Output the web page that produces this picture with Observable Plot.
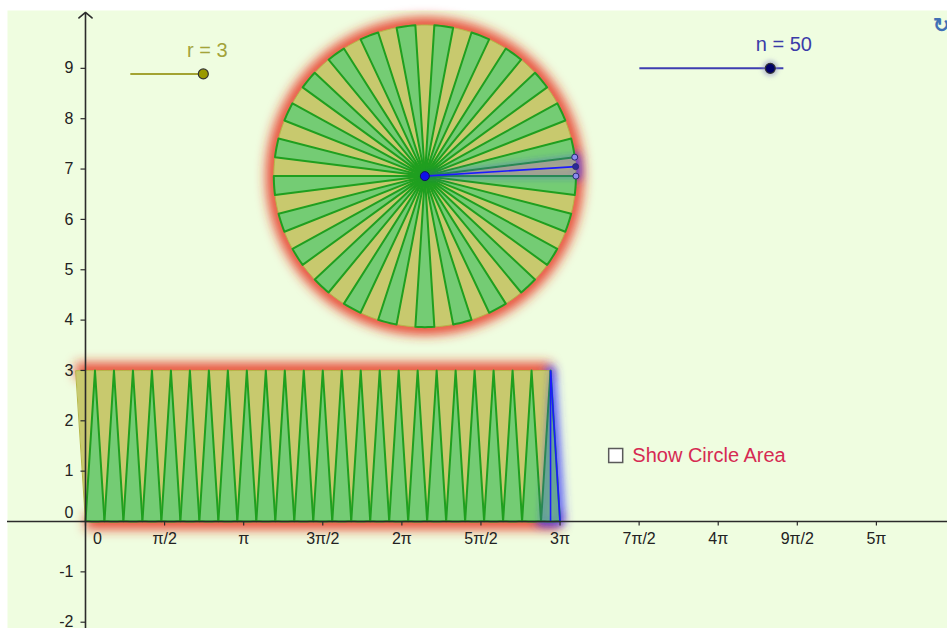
<!DOCTYPE html>
<html><head><meta charset="utf-8">
<script src="https://cdn.jsdelivr.net/npm/d3@7"></script>
<script src="https://cdn.jsdelivr.net/npm/@observablehq/plot@0.6"></script>
<style>body{margin:0;background:#fff;} #chart svg{display:block}</style>
</head><body><div id="chart"></div>
<script>
// ---- data ----
const r = 3;                       // radius slider value
const n = 50;                      // number of sectors slider value
const circleCenter = [6.74, 6.86]; // centre of the dissected circle
const xTickMultiples = [0, 0.5, 1, 1.5, 2, 2.5, 3, 3.5, 4, 4.5, 5]; // × π
const xTickLabels = ["0", "π/2", "π", "3π/2", "2π", "5π/2", "3π", "7π/2", "4π", "9π/2", "5π"];
const yTickValues = [-2, -1, 0, 1, 2, 3, 4, 5, 6, 7, 8, 9];
const yTickLabels = ["-2", "-1", "0", "1", "2", "3", "4", "5", "6", "7", "8", "9"];
const sliderNames = ["r = 3", "n = 50"];
const sliderX1 = [0.89, 11.0];
const sliderX2 = [2.34, 13.86];
const sliderHandle = [2.34, 13.6];
const sliderY = [8.89, 9.0];
const sliderLabelX = [2.42, 13.87];
const sliderLabelY = [9.35, 9.47];
const checkboxLabel = "Show Circle Area";
const checkboxPos = [10.53, 1.31];
const checkboxTextX = 10.86;
const xDomain = [-1.549, 17.12];
const yDomain = [-2.125, 10.149];

// ---- geometry derived from r and n ----
const theta = 2 * Math.PI / n;
const arcLen = r * theta;
const arcSteps = 6;
function sector(id, cx, cy, a0, a1) {
  const pts = [{id, x: cx, y: cy}];
  for (let i = 0; i <= arcSteps; i++) {
    const a = a0 + (a1 - a0) * i / arcSteps;
    pts.push({id, x: cx + r * Math.cos(a), y: cy + r * Math.sin(a)});
  }
  return pts;
}
const yellowPts = [], greenPts = [];
for (let j = 0; j < n; j++) {
  const s = sector("c" + j, circleCenter[0], circleCenter[1], j * theta, (j + 1) * theta);
  (j % 2 === 0 ? yellowPts : greenPts).push(...s);
}
for (let k = 0; k < n / 2; k++) {
  yellowPts.push(...sector("ry" + k, k * arcLen, 0, Math.PI / 2 - theta / 2, Math.PI / 2 + theta / 2));
  greenPts.push(...sector("rg" + k, (k + 0.5) * arcLen, r, -Math.PI / 2 - theta / 2, -Math.PI / 2 + theta / 2));
}
const lastK = n / 2 - 1;
const blueSectors = [
  ...sector("bc", circleCenter[0], circleCenter[1], 0, theta),
  ...sector("br", (lastK + 0.5) * arcLen, r, -Math.PI / 2 - theta / 2, -Math.PI / 2 + theta / 2)
];
const circlePts = d3.range(0, 121).map(i => ({x: circleCenter[0] + r * Math.cos(i / 120 * 2 * Math.PI), y: circleCenter[1] + r * Math.sin(i / 120 * 2 * Math.PI)}));
const rectEdges = [
  {x1: -arcLen / 2, y1: r, x2: (n / 2 - 0.5) * arcLen, y2: r},
  {x1: 0, y1: 0, x2: (n / 2) * arcLen, y2: 0}
];
const blueLines = [
  {x1: circleCenter[0], y1: circleCenter[1], x2: circleCenter[0] + r * Math.cos(theta / 2), y2: circleCenter[1] + r * Math.sin(theta / 2)},
  {x1: (lastK + 0.5) * arcLen, y1: r, x2: (lastK + 0.5) * arcLen, y2: 0},
  {x1: (lastK + 0.5) * arcLen, y1: r, x2: (lastK + 1) * arcLen, y2: 0}
];
const arcPoints = [0, 0.5, 1].map(f => ({f, x: circleCenter[0] + r * Math.cos(f * theta), y: circleCenter[1] + r * Math.sin(f * theta)}));

const pxPerUnit = 940 / (xDomain[1] - xDomain[0]);
const tickLen = 4.5 / pxPerUnit;
const xTicks = xTickMultiples.map((m, i) => ({x: m * Math.PI, label: xTickLabels[i]}));
const yTicks = yTickValues.map((v, i) => ({y: v, label: yTickLabels[i]}));
const sliders = sliderNames.map((name, i) => ({name, x1: sliderX1[i], x2: sliderX2[i], h: sliderHandle[i], y: sliderY[i], lx: sliderLabelX[i], ly: sliderLabelY[i]}));

const bg = "#effde0";
const axisColor = "#2b2b2b";

const chart = Plot.plot({
  width: 947, height: 628,
  marginLeft: 7, marginTop: 10, marginRight: 0, marginBottom: 0,
  x: {domain: xDomain, axis: null},
  y: {domain: yDomain, axis: null},
  style: {fontFamily: "'Liberation Sans', Arial, sans-serif", fontSize: "16px"},
  marks: [
    Plot.frame({fill: bg, stroke: "none"}),
    // red selection glows
    Plot.line(circlePts, {x: "x", y: "y", stroke: "#e8321f", strokeWidth: 15, strokeOpacity: 0.9, ariaDescription: "glow-red"}),
    Plot.link(rectEdges, {x1: "x1", y1: "y1", x2: "x2", y2: "y2", stroke: "#e8321f", strokeWidth: 15, strokeOpacity: 0.9, ariaDescription: "glow-red"}),
    // blue glow (outside)
    Plot.line(blueSectors, {x: "x", y: "y", z: "id", curve: "linear-closed", stroke: "#3a3aff", strokeWidth: 10, strokeOpacity: 0.75, ariaDescription: "glow-blue"}),
    // pieces
    Plot.line(yellowPts, {x: "x", y: "y", z: "id", curve: "linear-closed", fill: "#c8c96e", stroke: "#b6b748", strokeWidth: 1}),
    Plot.line(greenPts, {x: "x", y: "y", z: "id", curve: "linear-closed", fill: "#74cc74", stroke: "#1f9f1f", strokeWidth: 2, strokeLinejoin: "round"}),
    // blue tint over highlighted piece
    Plot.line(blueSectors, {x: "x", y: "y", z: "id", curve: "linear-closed", fill: "#5a5ad0", fillOpacity: 0.3, stroke: "#3030ff", strokeWidth: 4, strokeOpacity: 0.3, ariaDescription: "glow-blue-soft"}),
    Plot.link(blueLines, {x1: "x1", y1: "y1", x2: "x2", y2: "y2", stroke: "#1a1aff", strokeWidth: 1.6}),
    // axes
    Plot.ruleY([0], {stroke: axisColor, strokeWidth: 1.6}),
    Plot.arrow([0], {x1: 0, y1: yDomain[0], x2: 0, y2: 10.11, stroke: axisColor, strokeWidth: 1.6, headLength: 8, headAngle: 100}),
    Plot.ruleX(xTicks, {x: "x", y1: 0, y2: -tickLen, stroke: axisColor, strokeWidth: 1.2}),
    Plot.ruleY(yTicks, {y: "y", x1: -tickLen, x2: 0, stroke: axisColor, strokeWidth: 1.2}),
    Plot.text(xTicks.filter(d => d.x !== 0), {x: "x", y: 0, text: "label", dy: 17, fill: "#222", fontSize: 16}),
    Plot.text(xTicks.filter(d => d.x === 0), {x: "x", y: 0, text: "label", dy: 17, dx: 12, fill: "#222", fontSize: 16}),
    Plot.text(yTicks.filter(d => d.y !== 0), {x: 0, y: "y", text: "label", dx: -12, textAnchor: "end", fill: "#222", fontSize: 16}),
    Plot.text(yTicks.filter(d => d.y === 0), {x: 0, y: "y", text: "label", dx: -12, dy: -9, textAnchor: "end", fill: "#222", fontSize: 16}),
    // points
    Plot.dot(arcPoints, {x: "x", y: "y", r: 3, fill: d => d.f === 0.5 ? "#2a2a9a" : "#8c8cf0", stroke: "#2a2a70", strokeWidth: 1}),
    Plot.dot([circleCenter], {x: d => d[0], y: d => d[1], r: 4.5, fill: "#1010e8", stroke: "#101060", strokeWidth: 1}),
    // sliders
    Plot.link(sliders, {x1: "x1", x2: "x2", y1: "y", y2: "y", stroke: (d, i) => i === 0 ? "#a3a332" : "#3d3db0", strokeWidth: 2}),
    Plot.dot(sliders.slice(1), {x: "h", y: "y", r: 8, fill: "#8e8ec8", fillOpacity: 0.55, ariaDescription: "glow-dot"}),
    Plot.dot(sliders, {x: "h", y: "y", r: 5, fill: (d, i) => i === 0 ? "#999900" : "#000066", stroke: "#333", strokeWidth: 1.2}),
    Plot.text(sliders, {x: "lx", y: "ly", text: "name", fill: (d, i) => i === 0 ? "#a3a33a" : "#3b3ba8", fontSize: 20}),
    // checkbox
    Plot.dot([checkboxPos], {x: d => d[0], y: d => d[1], symbol: "square", r: 7.9, fill: "#ffffff", stroke: "#5a5a5a", strokeWidth: 1.5}),
    Plot.text([checkboxLabel], {x: checkboxTextX, y: checkboxPos[1], text: d => d, textAnchor: "start", fill: "#d62a52", fontSize: 20}),
    // refresh icon (partly off the right edge, as in the reference)
    Plot.text(["↻"], {x: 17.0, y: 9.85, text: d => d, fill: "#4170b5", fontSize: 20, fontWeight: "bold"})
  ]
});

const svg = chart.tagName.toLowerCase() === "svg" ? chart : chart.querySelector("svg");
const defs = d3.select(svg).insert("defs", ":first-child");
function addBlur(id, sd) {
  defs.append("filter").attr("id", id).attr("filterUnits", "userSpaceOnUse")
    .attr("x", 0).attr("y", 0).attr("width", 947).attr("height", 628)
    .append("feGaussianBlur").attr("stdDeviation", sd);
}
addBlur("blurRed", 6);
addBlur("blurBlue", 5);
addBlur("blurSoft", 3);
addBlur("blurDot", 2);
d3.select(svg).selectAll('[aria-description="glow-red"]').attr("filter", "url(#blurRed)");
d3.select(svg).selectAll('[aria-description="glow-blue"]').attr("filter", "url(#blurBlue)");
d3.select(svg).selectAll('[aria-description="glow-blue-soft"]').attr("filter", "url(#blurSoft)");
d3.select(svg).selectAll('[aria-description="glow-dot"]').attr("filter", "url(#blurDot)");
document.getElementById("chart").appendChild(chart);
</script>
</body></html>
